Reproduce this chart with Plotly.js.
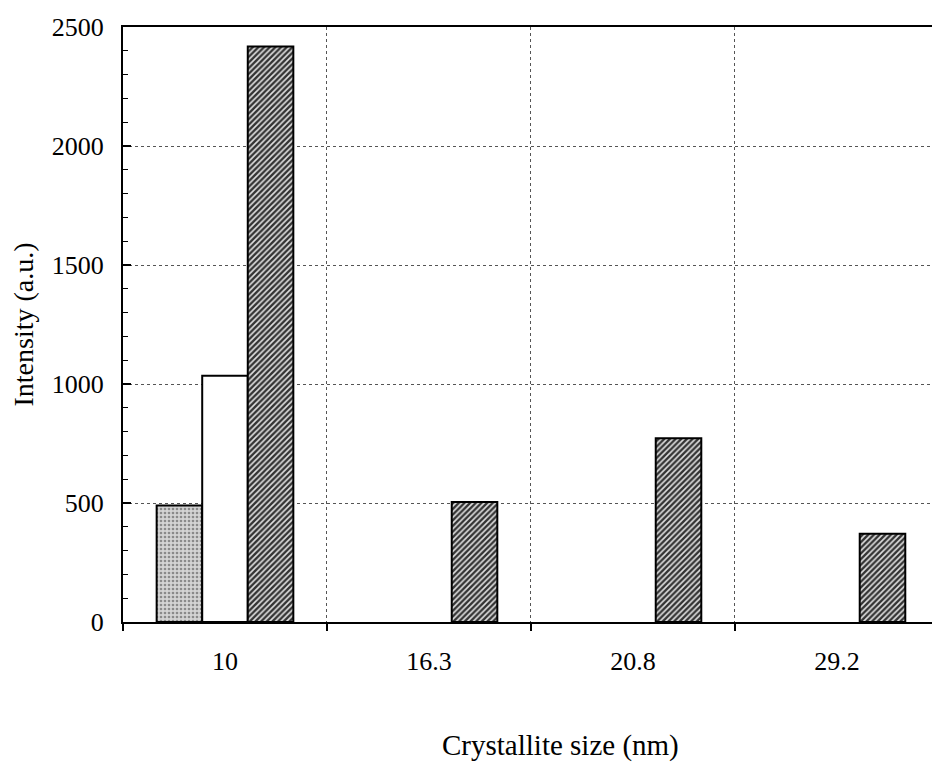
<!DOCTYPE html>
<html>
<head>
<meta charset="utf-8">
<script src="https://cdn.plot.ly/plotly-3.0.1.min.js"></script>
<style>html,body{margin:0;padding:0;background:#fff;}#chart{width:932px;height:764px;}</style>
</head>
<body>
<div id="chart"></div>
<script>
const categories = ['10', '16.3', '20.8', '29.2'];
const seriesA = [490, null, null, null];      // light stippled
const seriesB = [1035, null, null, null];     // white
const seriesC = [2418, 504, 772, 371];        // dark hatched
const yTicks = [0, 500, 1000, 1500, 2000, 2500];

const font = 'Liberation Serif, Times New Roman, serif';
const outline = {color: '#000', width: 2};

const traces = [
  {type: 'bar', x: categories, y: seriesA, name: 'A',
   marker: {color: '#cfcfcf', line: outline,
            pattern: {shape: '.', fgcolor: '#8a8a8a', bgcolor: '#d4d4d4', size: 4, solidity: 0.35}}},
  {type: 'bar', x: categories, y: seriesB, name: 'B',
   marker: {color: '#ffffff', line: outline}},
  {type: 'bar', x: categories, y: seriesC, name: 'C',
   marker: {color: '#555555', line: outline,
            pattern: {shape: '/', fgcolor: '#e0e0e0', bgcolor: '#333333', size: 4, solidity: 0.4}}}
];

const layout = {
  width: 932, height: 764,
  margin: {l: 123, r: 0, t: 27, b: 142},
  paper_bgcolor: '#fff', plot_bgcolor: '#fff',
  showlegend: false,
  barmode: 'group', bargap: 0.33, bargroupgap: 0,
  font: {family: font, color: '#000', size: 26},
  xaxis: {
    type: 'category', range: [-0.5, 3.466],
    tickson: 'boundaries', ticks: 'outside', ticklen: 7, tickwidth: 2, tickcolor: '#000',
    showline: true, linecolor: '#000', linewidth: 2, mirror: true,
    showgrid: true, gridcolor: '#555', griddash: 'dot', gridwidth: 1,
    tickfont: {family: font, size: 26, color: '#000'},
    ticklabelstandoff: 15
  },
  yaxis: {
    range: [0, 2500], tickvals: yTicks, ticktext: yTicks.map(String),
    ticks: 'inside', ticklen: 8, tickwidth: 1.5, tickcolor: '#000',
    minor: {dtick: 100, ticks: 'inside', ticklen: 5, tickwidth: 1, tickcolor: '#000', showgrid: false},
    showline: true, linecolor: '#000', linewidth: 2,
    showgrid: true, gridcolor: '#555', griddash: 'dot', gridwidth: 1,
    zeroline: false,
    tickfont: {family: font, size: 26, color: '#000'},
    ticklabelstandoff: 12,
    title: {text: 'Intensity (a.u.)', font: {family: font, size: 28, color: '#000'}, standoff: 10}
  },
  annotations: [{
    text: 'Crystallite size (nm)', xref: 'paper', yref: 'paper',
    x: (560 - 123) / 809, y: -(745 - 622) / 595, xanchor: 'center', yanchor: 'middle',
    showarrow: false, font: {family: font, size: 29, color: '#000'}
  }]
};

Plotly.newPlot('chart', traces, layout, {displayModeBar: false, staticPlot: true});
</script>
</body>
</html>
